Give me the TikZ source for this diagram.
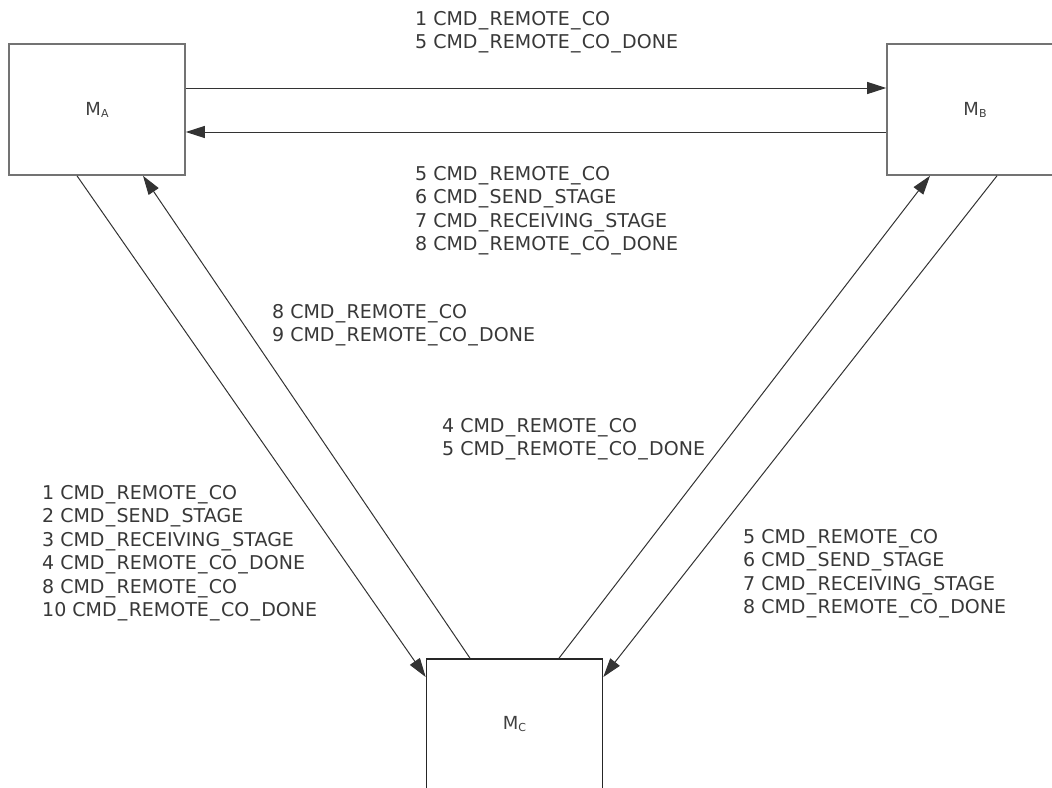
\documentclass[tikz,border=0pt]{standalone}
\usepackage{fontspec}
\setmainfont{DejaVu Sans}
\usetikzlibrary{arrows.meta}
\newcommand{\msub}[1]{M{\fontsize{11}{11}\selectfont\raisebox{-2pt}{#1}}}
\newcommand{\usc}{\makebox[0.636em]{\_}}
\begin{document}
\begin{tikzpicture}[x=1pt,y=-1pt,
  box/.style={draw=#1,line width=1.6pt,minimum width=176pt,minimum height=131pt,inner sep=0pt,
    font=\fontsize{18}{18}\selectfont,text=black!75},
  conn/.style={draw=black!80,line width=1pt,-{Triangle[length=19pt,width=12pt]}},
  lbl/.style={anchor=north west,inner sep=0pt,align=left,text=black!78,
    font=\fontsize{19}{23.5}\selectfont}]
\useasboundingbox (0,0) rectangle (1052,787);
\node[box=black!55] (MA) at (97,109.5) {\msub{A}};
\node[box=black!55] (MB) at (975,109.5) {\msub{B}};
\node[box=black!85] (MC) at (514.5,724.5) {\msub{C}};
% connectors
\draw[conn] ([yshift=21.5pt]MA.east) -- ([yshift=21.5pt]MB.west);
\draw[conn] ([yshift=-22.5pt]MB.west) -- ([yshift=-22.5pt]MA.east);
\draw[conn] ([xshift=-20pt]MA.south) -- ([yshift=47.5pt]MC.west);
\draw[conn] ([xshift=-44.5pt]MC.north) -- ([xshift=46pt]MA.south);
\draw[conn] ([xshift=44.5pt]MC.north) -- ([xshift=-45pt]MB.south);
\draw[conn] ([xshift=22pt]MB.south) -- ([yshift=47.5pt]MC.east);
% labels
\node[lbl] (l1) at (415,11) {1 CMD\usc REMOTE\usc CO\\5 CMD\usc REMOTE\usc CO\usc DONE};
\node[lbl] (l2) at (415,166) {5 CMD\usc REMOTE\usc CO\\6 CMD\usc SEND\usc STAGE\\7 CMD\usc RECEIVING\usc STAGE\\8 CMD\usc REMOTE\usc CO\usc DONE};
\node[lbl] (l3) at (272,304) {8 CMD\usc REMOTE\usc CO\\9 CMD\usc REMOTE\usc CO\usc DONE};
\node[lbl] (l4) at (442,418) {4 CMD\usc REMOTE\usc CO\\5 CMD\usc REMOTE\usc CO\usc DONE};
\node[lbl] (l5) at (42,485) {1 CMD\usc REMOTE\usc CO\\2 CMD\usc SEND\usc STAGE\\3 CMD\usc RECEIVING\usc STAGE\\4 CMD\usc REMOTE\usc CO\usc DONE\\8 CMD\usc REMOTE\usc CO\\10 CMD\usc REMOTE\usc CO\usc DONE};
\node[lbl] (l6) at (743,529) {5 CMD\usc REMOTE\usc CO\\6 CMD\usc SEND\usc STAGE\\7 CMD\usc RECEIVING\usc STAGE\\8 CMD\usc REMOTE\usc CO\usc DONE};
\end{tikzpicture}
\end{document}
